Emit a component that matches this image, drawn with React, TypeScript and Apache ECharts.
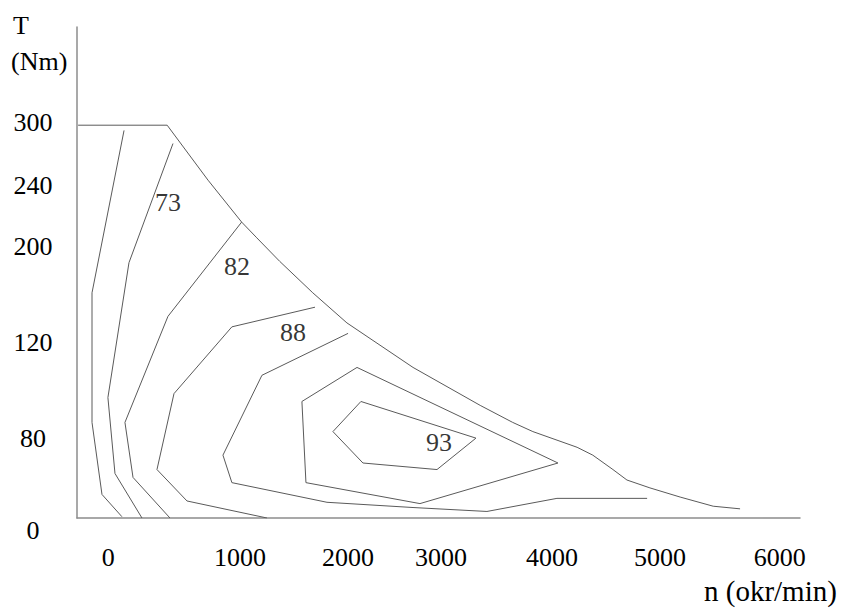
import React, { useEffect, useRef } from "react";
import * as echarts from "echarts";

// Speed axis (sketch scale, okr/min) and torque axis (sketch scale, Nm)
const xTickLabels = ["0", "1000", "2000", "3000", "4000", "5000", "6000"];
const xTickAt = [0, 1175, 2140, 2970, 3960, 4925, 5995];
const yTickLabels = ["0", "80", "120", "200", "240", "300"];
const yTickAt = [0, 61, 134, 207, 254, 302];

// Maximum torque envelope
const envelope: number[][] = [
  [-270, 300], [525, 300], [890, 258], [1190, 226], [1325, 214], [1530, 196],
  [1825, 172], [2130, 149], [2720, 115], [3320, 86], [3610, 73], [3790, 66],
  [4185, 54], [4325, 48], [4505, 37], [4630, 29], [4835, 23], [5105, 16],
  [5400, 9], [5640, 7],
];

// Efficiency iso-lines
const isoA: number[][] = [[140, 296], [-146, 172], [-146, 73], [-57, 18], [121, 1]];
const isoB: number[][] = [[577, 286], [184, 195], [-4, 92], [59, 34], [300, 0]];
const iso73: number[][] = [[1190, 226], [532, 154], [148, 73], [220, 31], [550, 0]];
const iso82: number[][] = [[1845, 161], [1103, 146], [586, 95], [434, 37], [702, 13], [1416, 0]];
const iso88: number[][] = [
  [2140, 141], [1371, 109], [1023, 48], [1103, 27], [1952, 12], [2720, 8],
  [3380, 5], [4005, 15], [4810, 15],
];
const iso92: number[][] = [[2220, 115], [1728, 89], [1764, 27], [2782, 11], [4014, 42], [2220, 115]];
const iso93: number[][] = [[2255, 89], [2005, 66], [2273, 42], [2934, 37], [3282, 61], [2255, 89]];

const isoNames = ["73", "82", "88", "93"];
const isoLabelAt: number[][] = [[532, 241], [1148, 192], [1648, 142], [2952, 58]];

const FONT = "'Liberation Serif', 'Times New Roman', serif";

export default function App() {
  const ref = useRef<HTMLDivElement>(null);
  useEffect(() => {
    document.body.style.margin = "0";
    const chart = echarts.init(ref.current!, undefined, { renderer: "svg" });
    const lineSeries = (data: number[][]) => ({
      type: "line",
      data,
      symbol: "none",
      silent: true,
      lineStyle: { color: "#5a5a5a", width: 1 },
    });
    chart.setOption({
      animation: false,
      backgroundColor: "#ffffff",
      grid: { left: 77, top: 27, width: 723, height: 491 },
      xAxis: {
        type: "value",
        min: -280,
        max: 6175,
        splitLine: { show: false },
        axisTick: { show: false },
        axisLine: { show: true, onZero: false, lineStyle: { color: "#8c8c8c", width: 1.5 } },
        axisLabel: {
          customValues: xTickAt,
          hideOverlap: false,
          margin: 26,
          color: "#000",
          fontFamily: FONT,
          fontSize: 26,
          lineHeight: 26,
          formatter: (v: number) => xTickLabels[xTickAt.indexOf(v)] ?? "",
        },
      },
      yAxis: {
        type: "value",
        min: 0,
        max: 375,
        splitLine: { show: false },
        axisTick: { show: false },
        axisLine: { show: true, onZero: false, lineStyle: { color: "#8c8c8c", width: 1.5 } },
        axisLabel: {
          customValues: yTickAt,
          hideOverlap: false,
          margin: 44,
          align: "center",
          color: "#000",
          fontFamily: FONT,
          fontSize: 26,
          lineHeight: 26,
          formatter: (v: number) => {
            const t = yTickLabels[yTickAt.indexOf(v)] ?? "";
            return v === 0 ? "{low|" + t + "}" : t;
          },
          rich: {
            low: { padding: [24, 0, 0, 0], fontFamily: FONT, fontSize: 26, color: "#000" },
          },
        },
      },
      series: [
        lineSeries(envelope),
        lineSeries(isoA),
        lineSeries(isoB),
        lineSeries(iso73),
        lineSeries(iso82),
        lineSeries(iso88),
        lineSeries(iso92),
        lineSeries(iso93),
        {
          type: "scatter",
          symbolSize: 0,
          silent: true,
          data: isoLabelAt.map((p, i) => ({ value: p, name: isoNames[i] })),
          label: {
            show: true,
            position: "inside",
            formatter: (p: any) => p.name,
            color: "#000",
            fontFamily: FONT,
            fontSize: 26,
          },
        },
      ],
      graphic: [
        { type: "text", x: 13, y: 25, style: { text: "T", font: `26px ${FONT}`, fill: "#000", verticalAlign: "middle" } },
        { type: "text", x: 11, y: 61, style: { text: "(Nm)", font: `26px ${FONT}`, fill: "#000", verticalAlign: "middle" } },
        { type: "text", x: 704, y: 591, style: { text: "n (okr/min)", font: `29px ${FONT}`, fill: "#000", verticalAlign: "middle" } },
      ],
    });
    return () => chart.dispose();
  }, []);
  return <div ref={ref} style={{ width: 854, height: 612 }} />;
}
